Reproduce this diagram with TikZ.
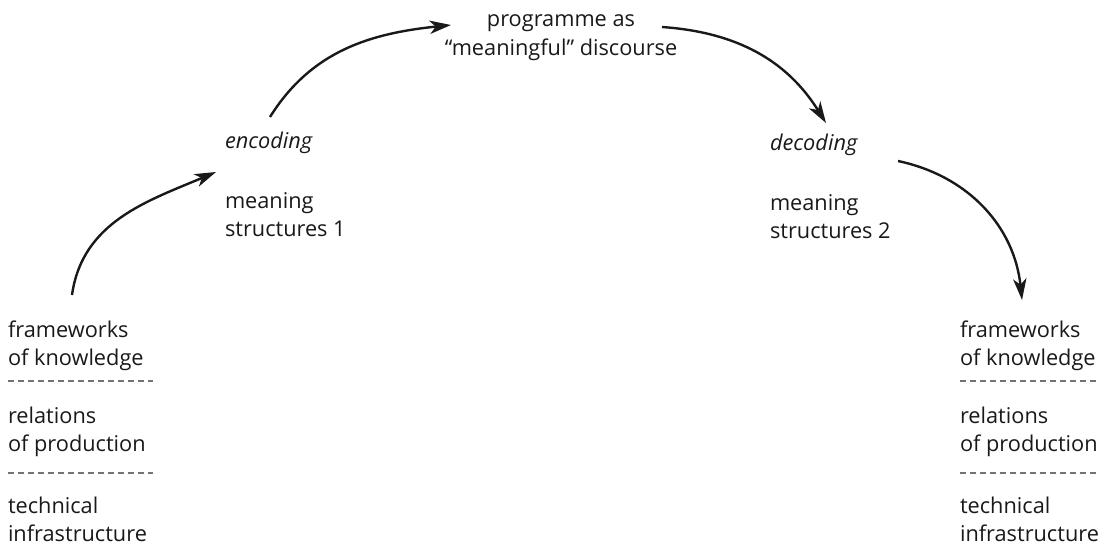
\documentclass[tikz,border=0pt]{standalone}
\usepackage{fontspec}
\setmainfont{Open Sans}
\usetikzlibrary{arrows.meta}
\begin{document}
\begin{tikzpicture}[x=0.75pt,y=0.75pt,
  txt/.style={inner sep=0pt,outer sep=0pt,anchor=base west,align=left,
    font=\fontsize{16.3pt}{21pt}\selectfont,text=black!90},
  sep/.style={draw=black!55,line width=0.8pt,dash pattern=on 4.5pt off 3pt},
  flow/.style={line width=1.8pt,black!90,-{Stealth[length=16pt,width=10pt,inset=4.5pt]}}]
\useasboundingbox (0,0) rectangle (1106,-546);
% left stack (anchor = baseline of last line)
\node[txt] (lfk) at (8,-365) {frameworks\\of knowledge};
\node[txt] (lrp) at (8,-451) {relations\\of production};
\node[txt] (lti) at (8,-541) {technical\\infrastructure};
\coordinate (ld1a) at (8,-381); \coordinate (ld1b) at (153,-381);
\coordinate (ld2a) at (8,-473); \coordinate (ld2b) at (153,-473);
\draw[sep] (ld1a) -- (ld1b);
\draw[sep] (ld2a) -- (ld2b);
% right stack
\node[txt] (rfk) at (960,-365) {frameworks\\of knowledge};
\node[txt] (rrp) at (960,-451) {relations\\of production};
\node[txt] (rti) at (960,-541) {technical\\infrastructure};
\coordinate (rd1a) at (960,-381); \coordinate (rd1b) at (1100,-381);
\coordinate (rd2a) at (960,-473); \coordinate (rd2b) at (1100,-473);
\draw[sep] (rd1a) -- (rd1b);
\draw[sep] (rd2a) -- (rd2b);
% middle labels
\node[txt,font=\fontsize{16.3pt}{21pt}\selectfont\itshape] (enc) at (225,-148) {encoding};
\node[txt] (ms1) at (225,-236) {meaning\\structures 1};
\node[txt,font=\fontsize{16.3pt}{21pt}\selectfont\itshape] (dec) at (770,-150) {decoding};
\node[txt] (ms2) at (770,-238) {meaning\\structures 2};
\node[txt,anchor=base,align=center] (prog) at (561,-55) {programme as\\“meaningful” discourse};
% arrows
\coordinate (a1s) at (72,-295);  \coordinate (a1e) at (216,-172);
\coordinate (a2s) at (270,-117); \coordinate (a2e) at (451,-25);
\coordinate (a3s) at (662,-27);  \coordinate (a3e) at (826,-123);
\coordinate (a4s) at (898,-161); \coordinate (a4e) at (1022,-300);
\draw[flow] (a1s) to[out=82,in=203] (a1e);
\draw[flow] (a2s) to[out=58,in=186] (a2e);
\draw[flow] (a3s) to[out=-4,in=122] (a3e);
\draw[flow] (a4s) to[out=-12,in=96] (a4e);
\end{tikzpicture}
\end{document}
